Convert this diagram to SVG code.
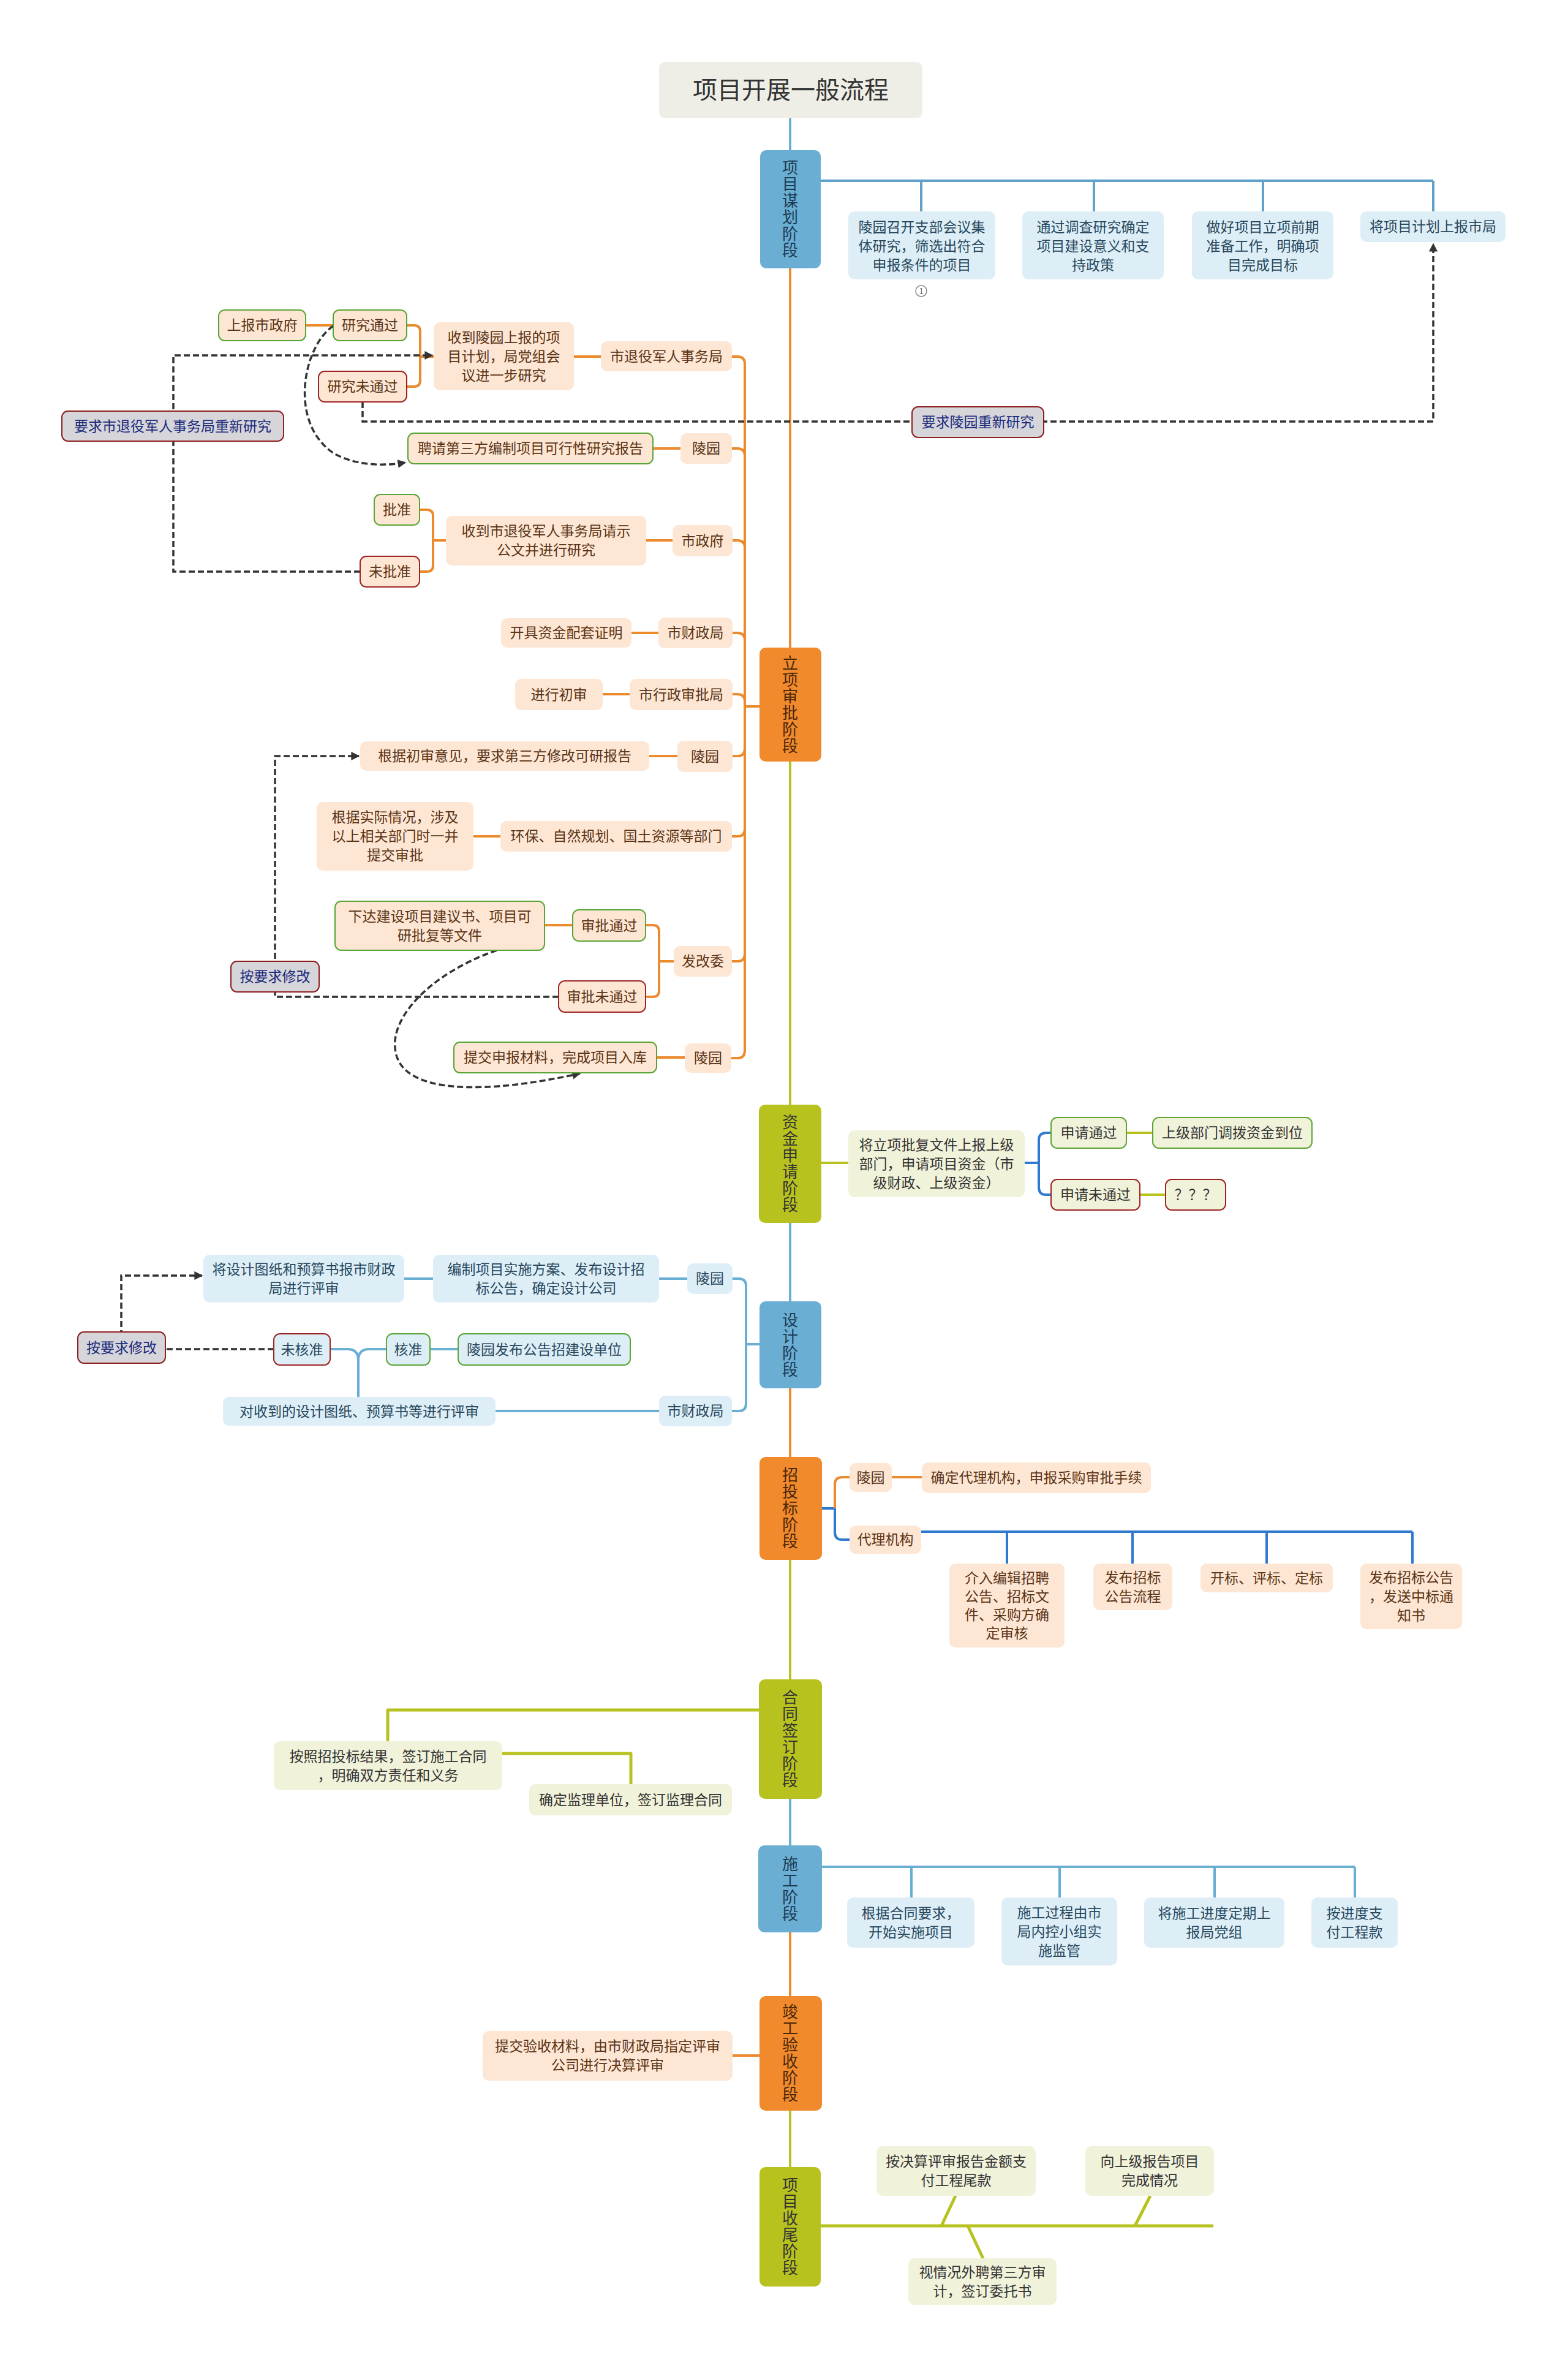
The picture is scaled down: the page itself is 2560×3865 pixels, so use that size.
<svg xmlns="http://www.w3.org/2000/svg" width="2560" height="3865" viewBox="0 0 2560 3865">
<defs>
<marker id="arr" viewBox="0 0 10 10" refX="9" refY="5" markerWidth="14" markerHeight="14" markerUnits="userSpaceOnUse" orient="auto"><path d="M0,0 L10,5 L0,10 z" fill="#333"/></marker>
<style>
text{font-family:"Noto Sans CJK SC","Noto Sans",sans-serif;font-size:23px;text-anchor:middle}
.pe{fill:#fde6d3}.bl{fill:#deeef7}.ye{fill:#f1f2da}
.gr{fill:#d5d5da;stroke:#8e1f1f;stroke-width:2}
.gb{stroke:#5aa535;stroke-width:2}.rb{stroke:#9e2424;stroke-width:2}
.tp{fill:#5a3416}.tb{fill:#27485c}.ty{fill:#333}.tg{fill:#1b2a7a}
.st{font-size:26px;writing-mode:vertical-rl;letter-spacing:1px}
.sb{fill:#6aaed3}.so{fill:#f08a2c}.sy{fill:#b8c21f}
.c{fill:none;stroke-width:4;stroke-linejoin:round}
.cb{stroke:#6aaed3}.cb1{stroke:#5ea2cc}.co{stroke:#ec8a2e}.cy{stroke:#b8c21f}.cbb{stroke:#2f7ad0}
.w5{stroke-width:5}
.d{fill:none;stroke:#333;stroke-width:3.5;stroke-dasharray:10 5}
</style>
</defs>
<rect width="2560" height="3865" fill="#ffffff"/>

<g id="connectors">
<path class="c cb" d="M1290,193 V245"/>
<path class="c co" d="M1290,438 V1057"/>
<path class="c cy" d="M1290,1243 V1803"/>
<path class="c cb" d="M1290,1996 V2124"/>
<path class="c co" d="M1290,2266 V2378"/>
<path class="c cy" d="M1290,2546 V2741"/>
<path class="c cb" d="M1290,2936 V3012"/>
<path class="c co" d="M1290,3154 V3258"/>
<path class="c cy" d="M1290,3445 V3537"/>

<path class="c cb1" d="M1340,295 H2340 M1504,295 V345 M1786,295 V345 M2062,295 V345 M2340,295 V345"/>

<path class="c co" d="M1216,1153 H1240 M1216,594 V1715"/>
<path class="c co" d="M1195,582 H1204 Q1216,582 1216,594 M1195,732 H1204 Q1216,732 1216,744 M1196,882 H1204 Q1216,882 1216,894 M1196,1033 H1204 Q1216,1033 1216,1045 M1196,1133 H1204 Q1216,1133 1216,1145 M1196,1234 H1204 Q1216,1234 1216,1222 M1195,1365 H1204 Q1216,1365 1216,1353 M1195,1569 H1204 Q1216,1569 1216,1557 M1194,1727 H1204 Q1216,1727 1216,1715"/>
<path class="c co" d="M937,582 H981 M664,531 H676 Q686,531 686,541 V621 Q686,631 676,631 H664 M686,582 H708 M499,531 H544 M1066,732 H1111 M1055,882 H1098 M685,832 H697 Q707,832 707,842 V923 Q707,933 697,933 H685 M707,882 H728 M1031,1033 H1075 M984,1133 H1028 M1060,1234 H1106 M773,1365 H817 M1054,1510 H1066 Q1076,1510 1076,1520 V1617 Q1076,1627 1066,1627 H1054 M1076,1569 H1100 M889,1510 H935 M1072,1726 H1118"/>

<path class="c cy" d="M1341,1898 H1385 M1839,1849 H1882 M1861,1950 H1903"/>
<path class="c cbb" d="M1673,1898 H1696 M1716,1849 H1708 Q1696,1849 1696,1861 V1938 Q1696,1950 1708,1950 H1716"/>

<path class="c cb" d="M1218,2194 H1240 M1196,2087 H1206 Q1218,2087 1218,2099 V2291 Q1218,2303 1206,2303 H1195 M1076,2087 H1122 M660,2087 H707 M809,2303 H1076 M585,2280 V2220 Q585,2202 567,2202 H539 M585,2220 Q585,2202 603,2202 H631 M702,2202 H748"/>

<path class="c cbb" d="M1342,2462 H1363 V2501 Q1363,2513 1375,2513 H1387 M1504,2500 H2306 M1644,2500 V2552 M1849,2500 V2552 M2068,2500 V2552 M2306,2500 V2552"/>
<path class="c co" d="M1363,2462 V2423 Q1363,2411 1375,2411 H1387 M1456,2411 H1505"/>

<path class="c cy w5" d="M1239,2791 H633 V2842 M820,2862 H1030 V2912"/>

<path class="c cb" d="M1342,3047 H2212 M1488,3047 V3097 M1730,3047 V3097 M1983,3047 V3097 M2212,3047 V3097"/>

<path class="c co" d="M1196,3355 H1240"/>

<path class="c cy w5" d="M1340,3633 H1981 M1537,3633 L1560,3584 M1853,3633 L1878,3584 M1580,3633 L1605,3686"/>

<path class="d" d="M592,656 V688 H2340 V398" marker-end="url(#arr)"/>
<path class="d" d="M588,933 H283 V580 H706" marker-end="url(#arr)"/>
<path class="d" d="M544,532 C495,565 470,690 545,740 C585,762 630,760 662,755" marker-end="url(#arr)"/>
<path class="d" d="M912,1627 H449 V1234 H586" marker-end="url(#arr)"/>
<path class="d" d="M811,1551 C700,1590 640,1660 645,1710 C650,1790 800,1785 947,1752" marker-end="url(#arr)"/>
<path class="d" d="M447,2202 H198 V2082 H330" marker-end="url(#arr)"/>
</g>

<g id="title"><rect x="1076" y="101" width="430" height="92" rx="10" fill="#efeee6"/><text x="1291" y="161" style="font-size:40px" fill="#333">项目开展一般流程</text></g>

<g id="stage1"><rect class="sb" x="1241" y="245" width="99" height="193" rx="10"/><text class="st" x="1290" y="341.5" fill="#1d3b52">项目谋划阶段</text></g>
<g id="stage2"><rect class="so" x="1240" y="1057" width="101" height="186" rx="10"/><text class="st" x="1290" y="1150" fill="#4a260a">立项审批阶段</text></g>
<g id="stage3"><rect class="sy" x="1239" y="1803" width="102" height="193" rx="10"/><text class="st" x="1290" y="1899.5" fill="#333">资金申请阶段</text></g>
<g id="stage4"><rect class="sb" x="1240" y="2124" width="101" height="142" rx="10"/><text class="st" x="1290" y="2195" fill="#1d3b52">设计阶段</text></g>
<g id="stage5"><rect class="so" x="1240" y="2378" width="102" height="168" rx="10"/><text class="st" x="1290" y="2462" fill="#4a260a">招投标阶段</text></g>
<g id="stage6"><rect class="sy" x="1239" y="2741" width="103" height="195" rx="10"/><text class="st" x="1290" y="2838.5" fill="#333">合同签订阶段</text></g>
<g id="stage7"><rect class="sb" x="1238" y="3012" width="104" height="142" rx="10"/><text class="st" x="1290" y="3083" fill="#1d3b52">施工阶段</text></g>
<g id="stage8"><rect class="so" x="1240" y="3258" width="102" height="187" rx="10"/><text class="st" x="1290" y="3351.5" fill="#4a260a">竣工验收阶段</text></g>
<g id="stage9"><rect class="sy" x="1240" y="3537" width="100" height="195" rx="10"/><text class="st" x="1290" y="3634.5" fill="#333">项目收尾阶段</text></g>

<g id="a1"><rect class="bl" x="1385" y="345" width="240" height="111" rx="10"/><text class="tb" x="1505" y="378.5"><tspan x="1505">陵园召开支部会议集</tspan><tspan x="1505" dy="31">体研究，筛选出符合</tspan><tspan x="1505" dy="31">申报条件的项目</tspan></text></g>
<g id="a1-mark"><circle cx="1504" cy="475" r="9" fill="#fff" stroke="#888" stroke-width="1.5"/><text x="1504" y="480" style="font-size:13px" fill="#666">1</text></g>
<g id="a2"><rect class="bl" x="1669" y="345" width="231" height="111" rx="10"/><text class="tb" x="1784.5" y="378.5"><tspan x="1784.5">通过调查研究确定</tspan><tspan x="1784.5" dy="31">项目建设意义和支</tspan><tspan x="1784.5" dy="31">持政策</tspan></text></g>
<g id="a3"><rect class="bl" x="1946" y="345" width="231" height="111" rx="10"/><text class="tb" x="2061.5" y="378.5"><tspan x="2061.5">做好项目立项前期</tspan><tspan x="2061.5" dy="31">准备工作，明确项</tspan><tspan x="2061.5" dy="31">目完成目标</tspan></text></g>
<g id="a4"><rect class="bl" x="2221" y="345" width="237" height="50" rx="10"/><text class="tb" x="2339.5" y="378">将项目计划上报市局</text></g>

<g id="b1"><rect class="pe" x="981" y="557" width="214" height="49" rx="10"/><text class="tp" x="1088" y="589.5">市退役军人事务局</text></g>
<g id="b1a"><rect class="pe" x="708" y="526" width="229" height="111" rx="10"/><text class="tp" x="822.5" y="558.5"><tspan x="822.5">收到陵园上报的项</tspan><tspan x="822.5" dy="31">目计划，局党组会</tspan><tspan x="822.5" dy="31">议进一步研究</tspan></text></g>
<g id="b1b"><rect class="pe gb" x="544" y="506" width="120" height="50" rx="10"/><text class="tp" x="604" y="539">研究通过</text></g>
<g id="b1c"><rect class="pe rb" x="520" y="606" width="144" height="50" rx="10"/><text class="tp" x="592" y="639">研究未通过</text></g>
<g id="b1d"><rect class="pe gb" x="357" y="506" width="142" height="50" rx="10"/><text class="tp" x="428" y="539">上报市政府</text></g>
<g id="b2"><rect class="pe" x="1111" y="707" width="84" height="50" rx="10"/><text class="tp" x="1153" y="740">陵园</text></g>
<g id="b2a"><rect class="pe gb" x="666" y="707" width="400" height="50" rx="10"/><text class="tp" x="866" y="740">聘请第三方编制项目可行性研究报告</text></g>
<g id="b3"><rect class="pe" x="1098" y="857" width="98" height="51" rx="10"/><text class="tp" x="1147" y="890.5">市政府</text></g>
<g id="b3a"><rect class="pe" x="728" y="842" width="327" height="81" rx="10"/><text class="tp" x="891.5" y="875"><tspan x="891.5">收到市退役军人事务局请示</tspan><tspan x="891.5" dy="31">公文并进行研究</tspan></text></g>
<g id="b3b"><rect class="pe gb" x="611" y="807" width="74" height="50" rx="10"/><text class="tp" x="648" y="840">批准</text></g>
<g id="b3c"><rect class="pe rb" x="588" y="908" width="97" height="50" rx="10"/><text class="tp" x="636.5" y="941">未批准</text></g>
<g id="b4"><rect class="pe" x="1075" y="1008" width="121" height="50" rx="10"/><text class="tp" x="1135.5" y="1041">市财政局</text></g>
<g id="b4a"><rect class="pe" x="818" y="1009" width="213" height="48" rx="10"/><text class="tp" x="924.5" y="1041">开具资金配套证明</text></g>
<g id="b5"><rect class="pe" x="1028" y="1108" width="168" height="51" rx="10"/><text class="tp" x="1112" y="1141.5">市行政审批局</text></g>
<g id="b5a"><rect class="pe" x="841" y="1108" width="143" height="51" rx="10"/><text class="tp" x="912.5" y="1141.5">进行初审</text></g>
<g id="b6"><rect class="pe" x="1106" y="1209" width="90" height="51" rx="10"/><text class="tp" x="1151" y="1242.5">陵园</text></g>
<g id="b6a"><rect class="pe" x="588" y="1210" width="472" height="48" rx="10"/><text class="tp" x="824" y="1242">根据初审意见，要求第三方修改可研报告</text></g>
<g id="b7"><rect class="pe" x="817" y="1340" width="378" height="50" rx="10"/><text class="tp" x="1006" y="1373">环保、自然规划、国土资源等部门</text></g>
<g id="b7a"><rect class="pe" x="517" y="1309" width="256" height="112" rx="10"/><text class="tp" x="645" y="1342"><tspan x="645">根据实际情况，涉及</tspan><tspan x="645" dy="31">以上相关部门时一并</tspan><tspan x="645" dy="31">提交审批</tspan></text></g>
<g id="b8"><rect class="pe" x="1100" y="1544" width="95" height="50" rx="10"/><text class="tp" x="1147.5" y="1577">发改委</text></g>
<g id="b8a"><rect class="pe gb" x="935" y="1485" width="119" height="51" rx="10"/><text class="tp" x="994.5" y="1518.5">审批通过</text></g>
<g id="b8b"><rect class="pe rb" x="912" y="1601" width="142" height="51" rx="10"/><text class="tp" x="983" y="1634.5">审批未通过</text></g>
<g id="b8c"><rect class="pe gb" x="547" y="1471" width="342" height="80" rx="10"/><text class="tp" x="718" y="1503.5"><tspan x="718">下达建设项目建议书、项目可</tspan><tspan x="718" dy="31">研批复等文件</tspan></text></g>
<g id="b9"><rect class="pe" x="1118" y="1703" width="76" height="48" rx="10"/><text class="tp" x="1156" y="1735">陵园</text></g>
<g id="b9a"><rect class="pe gb" x="741" y="1701" width="331" height="50" rx="10"/><text class="tp" x="906.5" y="1734">提交申报材料，完成项目入库</text></g>

<g id="g1"><rect class="gr" x="101" y="671" width="362" height="49" rx="10"/><text class="tg" x="282" y="703.5">要求市退役军人事务局重新研究</text></g>
<g id="g2"><rect class="gr" x="1489" y="664" width="215" height="50" rx="10"/><text class="tg" x="1596.5" y="697">要求陵园重新研究</text></g>
<g id="g3"><rect class="gr" x="377" y="1569" width="144" height="50" rx="10"/><text class="tg" x="449" y="1602">按要求修改</text></g>
<g id="g4"><rect class="gr" x="127" y="2174" width="143" height="51" rx="10"/><text class="tg" x="198.5" y="2207.5">按要求修改</text></g>

<g id="c1"><rect class="ye" x="1385" y="1845" width="288" height="109" rx="10"/><text class="ty" x="1529" y="1876.5"><tspan x="1529">将立项批复文件上报上级</tspan><tspan x="1529" dy="31">部门，申请项目资金（市</tspan><tspan x="1529" dy="31">级财政、上级资金）</tspan></text></g>
<g id="c2"><rect class="ye gb" x="1716" y="1824" width="123" height="50" rx="10"/><text class="ty" x="1777.5" y="1857">申请通过</text></g>
<g id="c3"><rect class="ye gb" x="1882" y="1824" width="260" height="50" rx="10"/><text class="ty" x="2012" y="1857">上级部门调拨资金到位</text></g>
<g id="c4"><rect class="ye rb" x="1716" y="1925" width="145" height="50" rx="10"/><text class="ty" x="1788.5" y="1958">申请未通过</text></g>
<g id="c5"><rect class="ye rb" x="1903" y="1925" width="98" height="50" rx="10"/><text class="ty" x="1952" y="1958">？？？</text></g>

<g id="d1"><rect class="bl" x="1122" y="2062" width="74" height="50" rx="10"/><text class="tb" x="1159" y="2095">陵园</text></g>
<g id="d2"><rect class="bl" x="707" y="2048" width="369" height="78" rx="10"/><text class="tb" x="891.5" y="2079.5"><tspan x="891.5">编制项目实施方案、发布设计招</tspan><tspan x="891.5" dy="31">标公告，确定设计公司</tspan></text></g>
<g id="d3"><rect class="bl" x="332" y="2048" width="328" height="78" rx="10"/><text class="tb" x="496" y="2079.5"><tspan x="496">将设计图纸和预算书报市财政</tspan><tspan x="496" dy="31">局进行评审</tspan></text></g>
<g id="d4"><rect class="bl" x="1076" y="2278" width="119" height="50" rx="10"/><text class="tb" x="1135.5" y="2311">市财政局</text></g>
<g id="d5"><rect class="bl" x="364" y="2280" width="445" height="47" rx="10"/><text class="tb" x="586.5" y="2311.5">对收到的设计图纸、预算书等进行评审</text></g>
<g id="d6"><rect class="bl rb" x="447" y="2177" width="92" height="51" rx="10"/><text class="tb" x="493" y="2210.5">未核准</text></g>
<g id="d7"><rect class="bl gb" x="631" y="2177" width="71" height="51" rx="10"/><text class="tb" x="666.5" y="2210.5">核准</text></g>
<g id="d8"><rect class="bl gb" x="748" y="2177" width="281" height="51" rx="10"/><text class="tb" x="888.5" y="2210.5">陵园发布公告招建设单位</text></g>

<g id="e1"><rect class="pe" x="1387" y="2388" width="69" height="47" rx="10"/><text class="tp" x="1421.5" y="2419.5">陵园</text></g>
<g id="e2"><rect class="pe" x="1505" y="2387" width="374" height="50" rx="10"/><text class="tp" x="1692" y="2420">确定代理机构，申报采购审批手续</text></g>
<g id="e3"><rect class="pe" x="1387" y="2490" width="117" height="46" rx="10"/><text class="tp" x="1445.5" y="2521">代理机构</text></g>
<g id="e4"><rect class="pe" x="1550" y="2552" width="188" height="137" rx="10"/><text class="tp" x="1644" y="2584"><tspan x="1644">介入编辑招聘</tspan><tspan x="1644" dy="30">公告、招标文</tspan><tspan x="1644" dy="30">件、采购方确</tspan><tspan x="1644" dy="30">定审核</tspan></text></g>
<g id="e5"><rect class="pe" x="1785" y="2552" width="129" height="76" rx="10"/><text class="tp" x="1849.5" y="2582.5"><tspan x="1849.5">发布招标</tspan><tspan x="1849.5" dy="31">公告流程</tspan></text></g>
<g id="e6"><rect class="pe" x="1960" y="2552" width="216" height="47" rx="10"/><text class="tp" x="2068" y="2583.5">开标、评标、定标</text></g>
<g id="e7"><rect class="pe" x="2221" y="2552" width="166" height="107" rx="10"/><text class="tp" x="2304" y="2582.5"><tspan x="2304">发布招标公告</tspan><tspan x="2304" dy="31">，发送中标通</tspan><tspan x="2304" dy="31">知书</tspan></text></g>

<g id="f1"><rect class="ye" x="447" y="2842" width="373" height="80" rx="10"/><text class="ty" x="633.5" y="2874.5"><tspan x="633.5">按照招投标结果，签订施工合同</tspan><tspan x="633.5" dy="31">，明确双方责任和义务</tspan></text></g>
<g id="f2"><rect class="ye" x="864" y="2912" width="331" height="51" rx="10"/><text class="ty" x="1029.5" y="2945.5">确定监理单位，签订监理合同</text></g>

<g id="h1"><rect class="bl" x="1383" y="3097" width="208" height="82" rx="10"/><text class="tb" x="1487" y="3130.5"><tspan x="1487">根据合同要求，</tspan><tspan x="1487" dy="31">开始实施项目</tspan></text></g>
<g id="h2"><rect class="bl" x="1635" y="3097" width="189" height="111" rx="10"/><text class="tb" x="1729.5" y="3129.5"><tspan x="1729.5">施工过程由市</tspan><tspan x="1729.5" dy="31">局内控小组实</tspan><tspan x="1729.5" dy="31">施监管</tspan></text></g>
<g id="h3"><rect class="bl" x="1868" y="3097" width="229" height="82" rx="10"/><text class="tb" x="1982.5" y="3130.5"><tspan x="1982.5">将施工进度定期上</tspan><tspan x="1982.5" dy="31">报局党组</tspan></text></g>
<g id="h4"><rect class="bl" x="2141" y="3097" width="141" height="82" rx="10"/><text class="tb" x="2211.5" y="3130.5"><tspan x="2211.5">按进度支</tspan><tspan x="2211.5" dy="31">付工程款</tspan></text></g>

<g id="i1"><rect class="pe" x="788" y="3315" width="408" height="81" rx="10"/><text class="tp" x="992" y="3348"><tspan x="992">提交验收材料，由市财政局指定评审</tspan><tspan x="992" dy="31">公司进行决算评审</tspan></text></g>

<g id="j1"><rect class="ye" x="1431" y="3503" width="260" height="81" rx="10"/><text class="ty" x="1561" y="3536"><tspan x="1561">按决算评审报告金额支</tspan><tspan x="1561" dy="31">付工程尾款</tspan></text></g>
<g id="j2"><rect class="ye" x="1772" y="3503" width="210" height="81" rx="10"/><text class="ty" x="1877" y="3536"><tspan x="1877">向上级报告项目</tspan><tspan x="1877" dy="31">完成情况</tspan></text></g>
<g id="j3"><rect class="ye" x="1483" y="3686" width="242" height="76" rx="10"/><text class="ty" x="1604" y="3716.5"><tspan x="1604">视情况外聘第三方审</tspan><tspan x="1604" dy="31">计，签订委托书</tspan></text></g>
</svg>
